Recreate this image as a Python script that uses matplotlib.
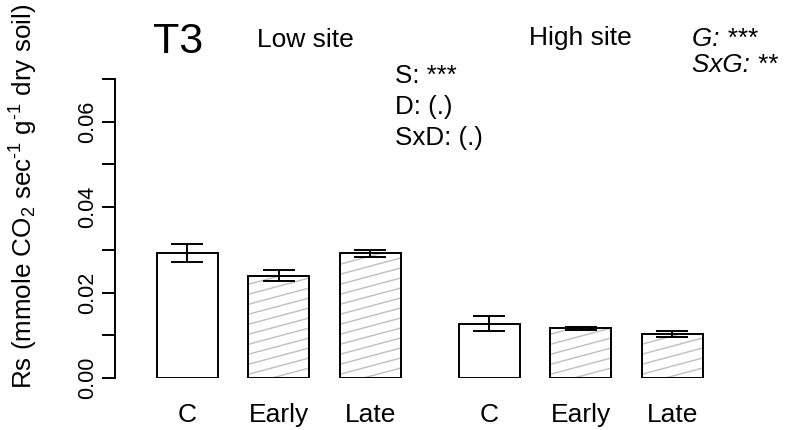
import matplotlib
matplotlib.use("Agg")
import matplotlib.pyplot as plt
import numpy as np
from matplotlib.lines import Line2D
from matplotlib.transforms import IdentityTransform

plt.rcParams['font.family'] = ['Liberation Sans', 'DejaVu Sans']
plt.rcParams['mathtext.fontset'] = 'custom'
plt.rcParams['mathtext.rm'] = 'Liberation Sans'
plt.rcParams['mathtext.it'] = 'Liberation Sans:italic'

# %% values
panel = "T3"
treatments = ["C", "Early", "Late"]
sites = ["Low site", "High site"]
rs_low = [0.0293, 0.0239, 0.0292]
se_low = [0.0021, 0.0013, 0.0008]
rs_high = [0.0127, 0.0116, 0.0102]
se_high = [0.0017, 0.00035, 0.0007]
hatched = [False, True, True]
stats_mid = ["S: ***", "D: (.)", "SxD: (.)"]
stats_right = ["G: ***", "SxG: **"]
ylab = r"Rs (mmole CO$_2$ sec$^{\text{-}1}$ g$^{\text{-}1}$ dry soil)"

# %%
W, H = 802, 430
fig = plt.figure(figsize=(W / 100, H / 100), dpi=100)
# axes box in pixels: spine at x=115, y=0 at 378px, y=0.07 at 79px
ax = fig.add_axes([115 / W, (H - 378) / H, (790 - 115) / W, (378 - 79) / H])

step, group_gap = 1.5, 1.95
pos_low = 1 + step * np.arange(3)
pos_high = pos_low[-1] + group_gap + step * np.arange(3)
pos = np.concatenate([pos_low, pos_high])
vals = np.array(rs_low + rs_high)
errs = np.array(se_low + se_high)
hat = hatched * 2

ax.set_xlim(1 - 72.2 / 61, 1 + (790 - 187.2) / 61)
ax.set_ylim(0, 0.07)

bars = ax.bar(pos, vals, width=1.0, color="white", edgecolor="none", zorder=1)
ax.bar(pos, vals, width=1.0, fill=False, edgecolor="black", linewidth=1.4, zorder=2)

# hatch lines at ~15 deg, drawn in pixel space and clipped to each bar
ang = np.tan(np.radians(15))
spacing = 10
for rect, h in zip(bars, hat):
    if not h:
        continue
    (x0, y0), (x1, y1) = ax.transData.transform(
        [(rect.get_x(), 0), (rect.get_x() + rect.get_width(), rect.get_height())])
    dx = x1 - x0
    for yy in np.arange(y0 - dx * ang - spacing, y1 + spacing, spacing):
        ln = Line2D([x0, x1], [yy, yy + dx * ang], transform=IdentityTransform(),
                    color="#bfbfbf", linewidth=1.0, zorder=1.5)
        ax.add_artist(ln)
        ln.set_clip_path(rect)

ax.errorbar(pos, vals, yerr=errs, fmt="none", ecolor="black", elinewidth=1.4,
            capsize=11.4, capthick=1.4, zorder=3)

for s in ["top", "right", "bottom"]:
    ax.spines[s].set_visible(False)
ax.spines["left"].set_linewidth(1.4)
ax.set_xticks([])
yt = np.arange(0, 0.0701, 0.01)
ax.set_yticks(yt)
ax.set_yticklabels([f"{v:.2f}" if i % 2 == 0 else "" for i, v in enumerate(yt)],
                   rotation=90, va="center", fontsize=15.5)
ax.tick_params(axis="y", length=9.4, width=1.4, pad=3)

# x category names under bars
for p, name in zip(pos, treatments * 2):
    ax.text(p, -(422 - 378) / 299, name, transform=ax.get_xaxis_transform(),
            ha="center", va="baseline", fontsize=19)


def px(x, y):
    return x / W, 1 - y / H


fig.text(*px(153, 53), panel, fontsize=31, va="baseline")
fig.text(*px(257, 47), sites[0], fontsize=19, va="baseline")
fig.text(*px(529, 45), sites[1], fontsize=19, va="baseline")
for i, s in enumerate(stats_mid):
    fig.text(*px(395, 83 + 31 * i), s, fontsize=18.7, va="baseline")
for i, s in enumerate(stats_right):
    fig.text(*px(692, 46.5 + 25.5 * i), s, fontsize=18.7, style="italic", va="baseline")

fig.text(*px(33, 196), ylab, rotation=90, rotation_mode="anchor",
         ha="center", va="baseline", fontsize=18.7)

fig.savefig("out.png", dpi=100)
